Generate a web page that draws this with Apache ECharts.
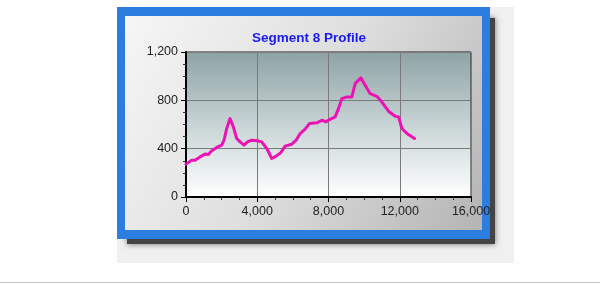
<!DOCTYPE html>
<html>
<head>
<meta charset="utf-8">
<script src="https://cdn.jsdelivr.net/npm/echarts@6/dist/echarts.min.js"></script>
<style>
html,body{margin:0;padding:0;background:#ffffff;}
#chart{width:600px;height:284px;}
</style>
</head>
<body>
<div id="chart"></div>
<script>
var title = 'Segment 8 Profile';
var distance = [0,320,506,787,1068,1256,1443,1724,2004,2136,2285,2473,2660,2847,3035,3260,3447,3690,4010,4254,4535,4816,5058,5320,5564,5938,6182,6407,6688,6930,7344,7625,7868,8055,8374,8561,8748,9030,9312,9498,9816,10060,10341,10716,10998,11369,11746,11933,12122,12403,12831];
var elevation = [272,305,305,332,355,352,382,410,429,470,567,649,580,484,456,429,456,470,465,456,401,319,338,366,421,437,470,525,561,608,614,635,622,641,663,731,814,828,828,938,987,924,855,833,786,710,668,663,567,525,484];
var xTicks = [0,4000,8000,12000,16000];
var yTicks = [0,400,800,1200];

var points = distance.map(function(d,i){return [d, elevation[i]];});
var fmt = function(v){return v.toLocaleString('en-US');};
var font = '"Liberation Sans", Arial, sans-serif';

var chart = echarts.init(document.getElementById('chart'), null, {renderer:'canvas'});
chart.setOption({
  animation:false,
  backgroundColor:'#ffffff',
  graphic:[
    {type:'rect', z:-10, silent:true, shape:{x:117,y:7,width:397,height:256}, style:{fill:'#f0f0f0'}},
    {type:'line', z:-10, silent:true, shape:{x1:0,y1:282.5,x2:600,y2:282.5}, style:{stroke:'#c4c4c4',lineWidth:1}},
    {type:'rect', z:-9, silent:true, shape:{x:127,y:18,width:368,height:226}, style:{fill:'#444444',shadowBlur:6,shadowColor:'rgba(0,0,0,0.55)'}},
    {type:'rect', z:-8, silent:true, shape:{x:117,y:7,width:373,height:232}, style:{fill:'#2b7de0'}},
    {type:'rect', z:-7, silent:true, shape:{x:125,y:16,width:357,height:214}, style:{fill:{type:'linear',x:0,y:0,x2:1,y2:1,colorStops:[{offset:0,color:'#f6f6f6'},{offset:0.5,color:'#dedede'},{offset:1,color:'#b4b4b4'}]}}}
  ],
  title:{text:title, left:304, top:26, textAlign:'center', textStyle:{color:'#1a1aee',fontSize:13.5,fontWeight:'bold',fontFamily:font}},
  grid:{left:186, right:129, top:52, bottom:87, show:true, borderColor:'#222', borderWidth:1,
    backgroundColor:{type:'linear',x:0,y:0,x2:0,y2:1,colorStops:[{offset:0,color:'#8ea3a5'},{offset:0.55,color:'#cdd8d9'},{offset:1,color:'#ffffff'}]}},
  xAxis:{type:'value', min:0, max:16000, interval:4000, splitNumber:4,
    axisLine:{show:true, onZero:false, lineStyle:{color:'#000',width:2}},
    axisTick:{show:true, length:5, lineStyle:{color:'#000'}},
    minorTick:{show:true, splitNumber:4, length:3, lineStyle:{color:'#333'}},
    splitLine:{show:true, lineStyle:{color:'#7a7a7a',width:1}},
    axisLabel:{color:'#222', fontSize:12.5, fontFamily:font, margin:8, formatter:fmt}},
  yAxis:{type:'value', min:0, max:1200, interval:400,
    axisLine:{show:true, onZero:false, lineStyle:{color:'#000',width:2}},
    axisTick:{show:true, length:5, lineStyle:{color:'#000'}},
    minorTick:{show:true, splitNumber:4, length:3, lineStyle:{color:'#333'}},
    splitLine:{show:true, lineStyle:{color:'#7a7a7a',width:1}},
    axisLabel:{color:'#222', fontSize:12.5, fontFamily:font, margin:8, formatter:fmt}},
  series:[{type:'line', data:points, showSymbol:false, smooth:false,
    lineStyle:{color:'#ec12b4', width:3, join:'round', cap:'round'}, z:5}]
});
</script>
</body>
</html>
